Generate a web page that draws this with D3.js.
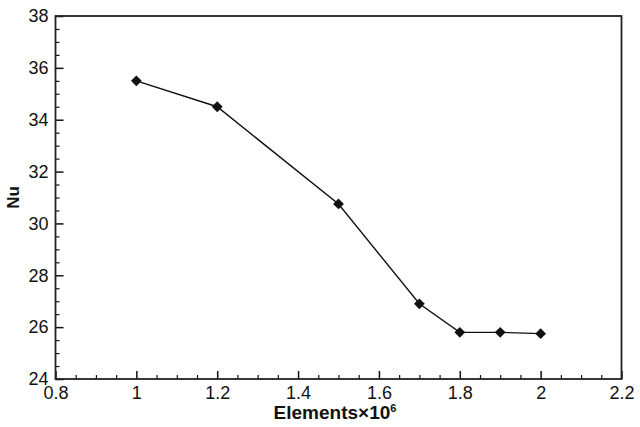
<!DOCTYPE html>
<html>
<head>
<meta charset="utf-8">
<script src="https://cdn.jsdelivr.net/npm/d3@7"></script>
<style>
    body { margin: 0; background: #fff; }
    svg { display: block; }
</style>
</head>
<body>
<div id="chart"></div>
<script>
    // grid sensitivity data
    var elements = [1.0, 1.2, 1.5, 1.7, 1.8, 1.9, 2.0];
    var nusselt = [35.5, 34.5, 30.75, 26.9, 25.8, 25.8, 25.75];

    var xTicks = [0.8, 1, 1.2, 1.4, 1.6, 1.8, 2, 2.2];
    var yTicks = [24, 26, 28, 30, 32, 34, 36, 38];

    var width = 640,
        height = 427,
        plotLeft = 55.5,
        plotRight = 621.5,
        plotTop = 16,
        plotBottom = 379,
        fontFamily = "Liberation Sans, Arial, sans-serif";

    var svg = d3.select("#chart").append("svg")
        .attr("width", width)
        .attr("height", height)
        .attr("font-family", fontFamily);

    var x = d3.scaleLinear().domain([0.8, 2.2]).range([plotLeft, plotRight]);
    var y = d3.scaleLinear().domain([24, 38]).range([plotBottom, plotTop]);

    // minor tick positions
    var xMinor = d3.range(0.8, 2.2001, 0.05).filter(function(v) {
        return Math.abs(v * 5 - Math.round(v * 5)) > 1e-6;
    });
    var yMinor = d3.range(24, 38.001, 0.5).filter(function(v) {
        return Math.abs(v / 2 - Math.round(v / 2)) > 1e-6;
    });

    // bottom axis, ticks inward
    var xAxis = d3.axisBottom(x).tickValues(xTicks).tickSize(-8).tickFormat(d3.format("~g"));
    var gx = svg.append("g").attr("transform", "translate(0," + plotBottom + ")").call(xAxis);
    gx.select(".domain").remove();
    gx.attr("font-size", 18).attr("font-family", fontFamily);
    gx.selectAll("line").attr("stroke", "#111").attr("stroke-width", 1.5);
    gx.selectAll("text").attr("y", 7).attr("dy", "0.71em").attr("fill", "#111");

    var xAxisMinor = d3.axisBottom(x).tickValues(xMinor).tickSize(-4).tickFormat("");
    var gxm = svg.append("g").attr("transform", "translate(0," + plotBottom + ")").call(xAxisMinor);
    gxm.select(".domain").remove();
    gxm.selectAll("line").attr("stroke", "#111").attr("stroke-width", 1.2);

    // left axis, ticks inward
    var yAxis = d3.axisLeft(y).tickValues(yTicks).tickSize(-8).tickFormat(d3.format("d"));
    var gy = svg.append("g").attr("transform", "translate(" + plotLeft + ",0)").call(yAxis);
    gy.select(".domain").remove();
    gy.attr("font-size", 18).attr("font-family", fontFamily);
    gy.selectAll("line").attr("stroke", "#111").attr("stroke-width", 1.5);
    gy.selectAll("text").attr("x", -7).attr("fill", "#111");

    var yAxisMinor = d3.axisLeft(y).tickValues(yMinor).tickSize(-4).tickFormat("");
    var gym = svg.append("g").attr("transform", "translate(" + plotLeft + ",0)").call(yAxisMinor);
    gym.select(".domain").remove();
    gym.selectAll("line").attr("stroke", "#111").attr("stroke-width", 1.2);

    // frame
    svg.append("rect")
        .attr("x", plotLeft)
        .attr("y", plotTop)
        .attr("width", plotRight - plotLeft)
        .attr("height", plotBottom - plotTop)
        .attr("fill", "none")
        .attr("stroke", "#222")
        .attr("stroke-width", 1.8);

    var points = elements.map(function(e, i) { return { x: e, y: nusselt[i] }; });

    var line = d3.line()
        .x(function(d) { return x(d.x); })
        .y(function(d) { return y(d.y); });

    svg.append("path")
        .datum(points)
        .attr("d", line)
        .attr("fill", "none")
        .attr("stroke", "#111")
        .attr("stroke-width", 1.4);

    var diamond = d3.symbol().type(d3.symbolSquare).size(58);

    svg.selectAll(".marker")
        .data(points)
        .enter().append("path")
        .attr("class", "marker")
        .attr("d", diamond)
        .attr("fill", "#111")
        .attr("transform", function(d) {
            return "translate(" + x(d.x) + "," + y(d.y) + ") rotate(45)";
        });

    // axis titles
    var xt = svg.append("text")
        .attr("x", 335)
        .attr("y", 419)
        .attr("font-size", 19)
        .attr("font-weight", "bold")
        .attr("fill", "#111")
        .attr("text-anchor", "middle");
    xt.append("tspan").text("Elements\u00d710");
    xt.append("tspan").attr("dy", -7).attr("font-size", 11).text("6");

    svg.append("text")
        .attr("transform", "translate(19," + ((plotTop + plotBottom) / 2) + ") rotate(-90)")
        .attr("font-size", 17)
        .attr("font-weight", "bold")
        .attr("fill", "#111")
        .attr("text-anchor", "middle")
        .text("Nu");
</script>
</body>
</html>
